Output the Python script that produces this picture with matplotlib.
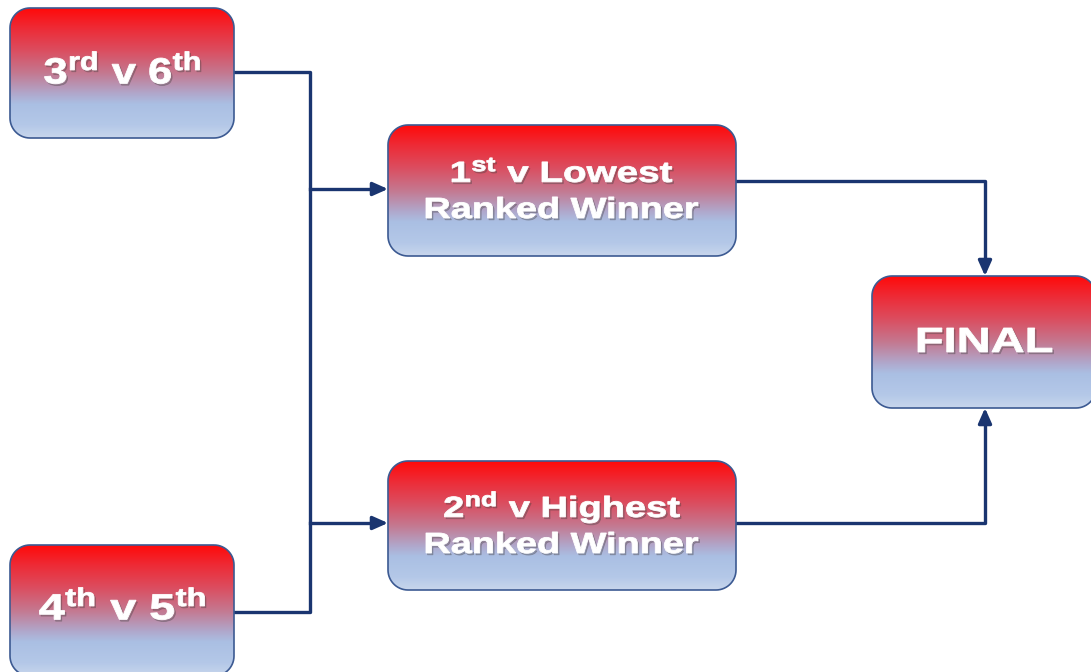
import matplotlib
matplotlib.use("Agg")
import matplotlib.pyplot as plt
import numpy as np
from matplotlib.patches import Polygon, PathPatch
from matplotlib.colors import LinearSegmentedColormap
from matplotlib.textpath import TextPath
from matplotlib.font_manager import FontProperties
from matplotlib.transforms import Affine2D

plt.rcParams['mathtext.fontset'] = 'custom'
plt.rcParams['mathtext.bf'] = 'Liberation Sans:bold'
plt.rcParams['mathtext.rm'] = 'Liberation Sans:bold'
plt.rcParams['mathtext.it'] = 'Liberation Sans:bold'

# text lines of each box
lines = [[r"3$^{rd}$ v 6$^{th}$"],
         [r"4$^{th}$ v 5$^{th}$"],
         [r"1$^{st}$ v Lowest", "Ranked Winner"],
         [r"2$^{nd}$ v Highest", "Ranked Winner"],
         ["FINAL"]]

# box layout in pixels (x0, y0, x1, y1), y measured from top
boxes = [(10, 8, 234, 138),
         (10, 545, 234, 676),
         (388, 125, 736, 256),
         (388, 461, 736, 590),
         (872, 276, 1096, 408)]
# text line metrics: (width px, cap height px, cap centre y)
line_fmt = [[(155, 25, 71)],
            [(165, 25, 607)],
            [(220, 20, 172), (272, 20, 208)],
            [(235, 20, 507), (272, 20, 543)],
            [(134, 24, 340)]]

fig = plt.figure(figsize=(10.91, 6.72), dpi=100)
ax = fig.add_axes([0, 0, 1, 1])
ax.set_xlim(0, 1091)
ax.set_ylim(672, 0)
ax.axis('off')

cmap = LinearSegmentedColormap.from_list('redblue', [
    (0.0, '#ff0a0a'), (0.15, '#ee2a35'), (0.32, '#dc4c5e'), (0.5, '#c47890'),
    (0.66, '#b0a8cc'), (0.74, '#aabfe3'), (0.9, '#b4c8e8'), (1.0, '#c8d6ec')])
grad = np.linspace(0, 1, 256).reshape(-1, 1)

prop = FontProperties(family='Liberation Sans', weight='bold')
cap_ref = TextPath((0, 0), "H", size=100, prop=prop).get_extents().height / 100


def round_rect(x0, y0, x1, y1, r=20):
    pts = []
    for cx, cy, a0 in [(x1 - r, y0 + r, -90), (x1 - r, y1 - r, 0),
                       (x0 + r, y1 - r, 90), (x0 + r, y0 + r, 180)]:
        t = np.radians(np.linspace(a0, a0 + 90, 16))
        pts += list(zip(cx + r * np.cos(t), cy + r * np.sin(t)))
    return np.array(pts)


def draw_line(s, width, cap, cy, xc):
    tp = TextPath((0, 0), s, size=100, prop=prop)
    ext = tp.get_extents()
    sy = cap / (cap_ref * 100)
    sx = width / ext.width
    base = cy + cap / 2
    for dx, dy, col, a, z in [(1.5, 1.8, '#404040', 0.3, 4), (0, 0, 'white', 1, 5)]:
        tr = Affine2D().translate(-ext.x0, 0).scale(sx, -sy).translate(xc - width / 2 + dx, base + dy)
        pp = PathPatch(tr.transform_path(tp), facecolor=col, edgecolor=col,
                       lw=0.6, alpha=a, zorder=z)
        ax.add_patch(pp)


for (x0, y0, x1, y1), txts, fmts in zip(boxes, lines, line_fmt):
    patch = Polygon(round_rect(x0, y0, x1, y1), closed=True,
                    facecolor=(1, 1, 1, 0), edgecolor='#3c5a92', lw=1.2, zorder=3)
    ax.add_patch(patch)
    im = ax.imshow(grad, cmap=cmap, aspect='auto', extent=[x0, x1, y1, y0],
                   zorder=2, interpolation='bilinear')
    im.set_clip_path(patch)
    for s, (w, cap, cy) in zip(txts, fmts):
        draw_line(s, w, cap, cy, (x0 + x1) / 2 if x1 < 1091 else 985)

ax.set_xlim(0, 1091)
ax.set_ylim(672, 0)

line_c = '#1a3570'
lw = 2.4
aprops = dict(arrowstyle='-|>,head_length=0.9,head_width=0.4', color=line_c, lw=lw,
              mutation_scale=10, shrinkA=0, shrinkB=0)
# left bracket
ax.plot([234, 310, 310, 234], [72, 72, 612, 612], color=line_c, lw=lw, zorder=1)
for y in [189, 523]:
    ax.plot([310, 380], [y, y], color=line_c, lw=lw, zorder=1)
    ax.annotate('', xy=(388, y), xytext=(376, y), arrowprops=aprops)
# right bracket
ax.plot([736, 985, 985], [181, 181, 268], color=line_c, lw=lw, zorder=1)
ax.annotate('', xy=(985, 276), xytext=(985, 264), arrowprops=aprops)
ax.plot([736, 985, 985], [523, 523, 416], color=line_c, lw=lw, zorder=1)
ax.annotate('', xy=(985, 408), xytext=(985, 420), arrowprops=aprops)

fig.savefig('out.png', dpi=100)
